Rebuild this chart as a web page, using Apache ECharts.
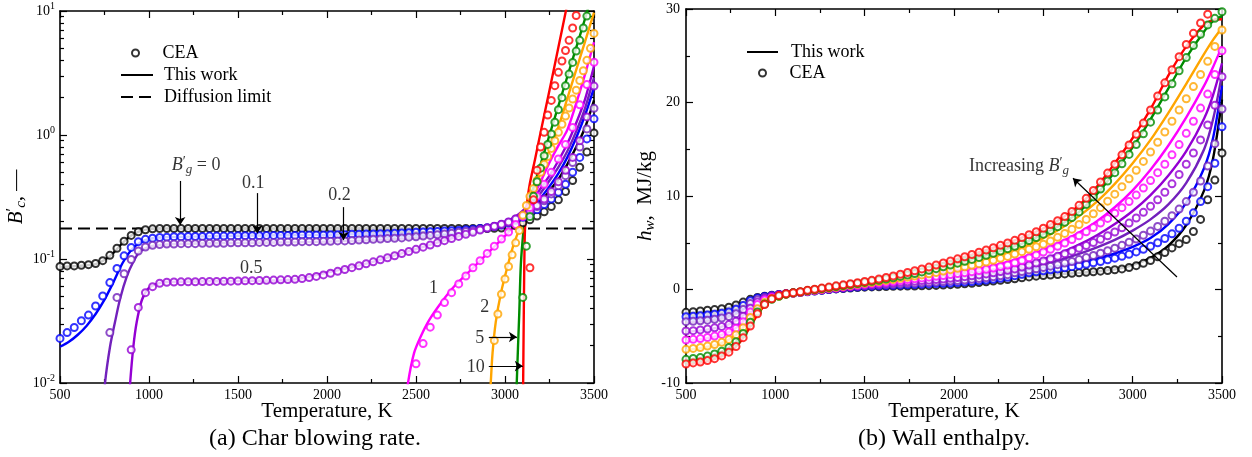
<!DOCTYPE html>
<html><head><meta charset="utf-8">
<script src="https://cdn.jsdelivr.net/npm/echarts@6/dist/echarts.min.js"></script>
<style>html,body{margin:0;padding:0;background:#fff}#c{width:1252px;height:457px}</style>
</head><body><div id="c"></div><script>
// ---------- shared sampling grid of the CEA points (K) ----------
const TEMPS = [500,540,580,620,660,700,740,780,820,860,900,940,980,1020,1060,1100,1140,1180,1220,1260,
1300,1340,1380,1420,1460,1500,1540,1580,1620,1660,1700,1740,1780,1820,1860,1900,1940,1980,2020,2060,
2100,2140,2180,2220,2260,2300,2340,2380,2420,2460,2500,2540,2580,2620,2660,2700,2740,2780,2820,2860,
2900,2940,2980,3020,3060,3100,3140,3180,3220,3260,3300,3340,3380,3420,3460,3500];
const B_G = ['0','0.1','0.2','0.5','1','2','5','10'];
const COLORS = ['#000000','#0000ff','#7221bc','#9400d3','#ff00ff','#ffa500','#008b00','#ff0000'];

// ---------- (a) char blowing rate B'c ----------
const DIFF_LIMIT = 0.176;
const B_CEA_START = [500,500,780,900,2500];
const B_CEA_0 = [0.087,0.088,0.088,0.089,0.09,0.092,0.097,0.107,0.122,0.139,0.155,0.166,0.172,0.175,
0.176,0.176,0.176,0.176,0.176,0.176,0.176,0.176,0.176,0.176,
0.176,0.176,0.176,0.176,0.176,0.176,0.176,0.176,0.176,0.176,
0.176,0.176,0.176,0.176,0.176,0.176,0.176,0.176,0.176,0.176,
0.176,0.176,0.176,0.176,0.176,0.176,0.176,0.176,0.176,0.176,
0.176,0.176,0.176,0.176,0.176,0.176,0.176,
0.177,0.178,0.181,0.187,0.196,0.207,0.222,0.24,0.265,0.3,0.35,0.43,0.55,0.73,1.04];
const B_CEA_1 = [0.0229,0.0255,0.028,0.0318,0.0353,0.0418,0.0503,0.0645,0.084,0.106,0.124,0.138,0.144,0.147,
0.149,0.15,0.151,0.151,0.152,0.152,0.152,0.153,0.153,0.153,
0.153,0.154,0.154,0.154,0.154,0.155,0.155,0.155,0.155,0.155,
0.156,0.156,0.156,0.156,0.157,0.157,0.157,0.158,0.158,0.159,
0.159,0.16,0.16,0.161,0.162,0.163,0.164,0.165,0.166,0.167,
0.168,0.169,0.17,0.172,0.174,0.176,0.179,
0.183,0.188,0.195,0.205,0.217,0.232,0.25,0.275,0.305,0.345,0.4,0.5,0.66,0.93,1.35];
const B_CEA_2 = [0.0255,0.049,0.076,0.099,0.116,0.125,0.129,
0.131,0.132,0.132,0.133,0.133,0.133,0.134,0.134,0.134,0.134,
0.135,0.135,0.135,0.135,0.136,0.136,0.136,0.137,0.137,0.137,
0.138,0.138,0.138,0.139,0.139,0.14,0.14,0.141,0.142,0.143,
0.144,0.145,0.146,0.147,0.148,0.15,0.151,0.153,0.155,0.157,
0.159,0.161,0.164,0.167,0.17,0.174,0.178,
0.183,0.19,0.198,0.21,0.225,0.243,0.265,0.295,0.335,0.39,0.47,0.6,0.8,1.12,1.64];
const B_CEA_3 = [0.0185,0.0407,0.0535,0.0598,
0.0637,0.065,0.0652,0.0654,0.0655,0.0656,0.0657,0.0658,0.066,0.0661,
0.0663,0.0665,0.0667,0.0669,0.0671,0.0673,0.0676,0.0679,0.0682,
0.0685,0.0695,0.0708,0.0724,0.0744,0.0768,0.0795,0.0823,0.0852,0.0883,
0.0915,0.0949,0.0985,0.1023,0.1063,0.1105,0.115,0.1197,0.1246,0.1297,
0.135,0.1405,0.1462,0.1521,0.1582,0.1645,0.171,0.1777,
0.184,0.191,0.199,0.21,0.225,0.245,0.27,0.305,0.35,0.42,0.52,0.66,0.9,1.4,2.48];
const B_CEA_4 = [0.0143,0.0208,0.0282,0.0353,0.0445,0.0535,0.063,0.073,0.085,0.097,0.111,
0.127,0.145,0.165,0.19,0.22,0.26,0.32,0.4,0.5,0.64,0.84,1.15,1.75,2.55,3.86];
const B_CEA_5 = [[2940,0.022],[2960,0.036],[2980,0.052],[3000,0.069],[3020,0.087],[3040,0.108],[3060,0.135],
[3080,0.17],[3100,0.225],[3120,0.27],[3140,0.32],[3160,0.37],[3180,0.43],[3200,0.5],[3220,0.58],[3240,0.67],
[3260,0.78],[3280,0.9],[3300,1.05],[3320,1.22],[3340,1.42],[3360,1.65],[3380,1.95],[3400,2.3],[3420,2.75],
[3440,3.3],[3460,4.0],[3480,5.0],[3500,6.6]];
const B_CEA_6 = [[3100,0.049],[3120,0.127],[3140,0.22],[3160,0.32],[3180,0.42],[3200,0.54],[3220,0.68],
[3240,0.84],[3260,1.02],[3280,1.27],[3300,1.6],[3320,2.0],[3340,2.5],[3360,3.1],[3380,3.85],[3400,4.75],
[3420,5.8],[3440,7.3],[3460,9.1]];
const B_CEA_7 = [[3140,0.085],[3160,0.3],[3180,0.52],[3200,0.8],[3220,1.05],[3240,1.45],[3260,1.9],[3280,2.5],
[3300,3.2],[3320,3.95],[3340,4.8],[3360,5.8],[3380,7.3],[3400,9.2]];

const B_LINE_0 = [[500,0.086],[550,0.087],[600,0.088],[650,0.089],[700,0.091],[750,0.098],[800,0.112],[850,0.134],
[900,0.155],[950,0.168],[1000,0.174],[1050,0.176],[1500,0.176],[2000,0.176],[2500,0.176],[3000,0.177],[3050,0.188],
[3100,0.21],[3150,0.245],[3200,0.29],[3250,0.355],[3300,0.44],[3350,0.58],[3400,0.8],[3450,1.15],[3500,1.9]];
const B_LINE_1 = [[500,0.0196],[550,0.0215],[600,0.0245],[650,0.029],[700,0.036],[750,0.047],[800,0.065],[850,0.092],
[900,0.118],[950,0.136],[1000,0.145],[1050,0.149],[1100,0.15],[1500,0.154],[2000,0.157],[2500,0.164],[2800,0.173],
[3000,0.19],[3050,0.2],[3100,0.22],[3150,0.255],[3200,0.31],[3250,0.385],[3300,0.49],[3350,0.66],[3400,0.95],
[3450,1.45],[3500,2.4]];
const B_LINE_2 = [[745,0.006],[753,0.01],[781,0.0196],[809,0.031],[838,0.048],[875,0.072],[912,0.095],[950,0.115],
[1006,0.126],[1100,0.131],[1500,0.135],[2000,0.138],[2500,0.148],[2800,0.165],[2950,0.185],[3000,0.195],[3050,0.21],
[3100,0.235],[3150,0.275],[3200,0.34],[3250,0.43],[3300,0.55],[3350,0.74],[3400,1.07],[3450,1.65],[3500,2.9]];
const B_LINE_3 = [[885,0.006],[894,0.01],[912,0.0196],[931,0.031],[960,0.0467],[997,0.058],[1044,0.063],[1100,0.0652],
[1500,0.0665],[1800,0.068],[2000,0.0777],[2200,0.09],[2400,0.109],[2600,0.133],[2800,0.161],[2950,0.185],[3050,0.215],
[3100,0.245],[3150,0.29],[3200,0.37],[3250,0.47],[3300,0.62],[3350,0.85],[3400,1.25],[3450,1.95],[3500,3.6]];
const B_LINE_4 = [[2445,0.007],[2455,0.01],[2489,0.0174],[2526,0.0236],[2573,0.032],[2639,0.044],[2714,0.06],
[2808,0.0815],[2902,0.111],[2995,0.151],[3051,0.182],[3100,0.225],[3150,0.3],[3200,0.42],[3250,0.6],[3300,0.82],
[3350,1.1],[3400,1.8],[3450,3.1],[3500,5.6]];
const B_LINE_5 = [[2912,0.006],[2920,0.01],[2930,0.0174],[2948,0.031],[2977,0.053],[3014,0.087],[3051,0.134],
[3089,0.188],[3110,0.24],[3150,0.33],[3200,0.5],[3250,0.75],[3300,1.16],[3350,1.97],[3400,3.35],[3450,5.7],[3500,9.7]];
const B_LINE_6 = [[3064,0.006],[3066,0.01],[3080,0.036],[3089,0.09],[3104,0.17],[3115,0.22],[3150,0.34],[3200,0.58],
[3250,1.0],[3300,1.72],[3350,2.95],[3400,5.07],[3450,8.7],[3470,11]];
const B_LINE_7 = [[3101,0.006],[3102,0.01],[3105,0.03],[3108,0.08],[3112,0.17],[3120,0.25],[3136,0.38],[3170,0.65],
[3200,1.05],[3250,2.3],[3300,5.1],[3345,10.5]];

// ---------- (b) wall enthalpy h_w (MJ/kg) ----------
const H_CEA_0 = [-2.44,-2.38,-2.3,-2.22,-2.15,-2.05,-1.9,-1.65,-1.35,-1.05,-0.85,-0.72,-0.62,-0.54,-0.46,-0.38,
-0.3,-0.22,-0.14,-0.07,0.0,0.06,0.11,0.16,0.21,0.25,
0.28,0.3,0.32,0.34,0.36,0.37,0.38,0.4,0.41,0.44,
0.48,0.52,0.56,0.61,0.67,0.74,0.82,0.9,0.98,1.06,
1.15,1.25,1.35,1.43,1.49,1.55,1.61,1.67,1.73,1.78,
1.84,1.9,1.96,2.03,2.11,2.2,2.35,2.55,2.8,3.1,
3.5,3.95,4.45,4.9,5.35,6.2,7.5,9.6,11.7,14.6];
const H_CEA_1 = [-2.91,-2.87,-2.8,-2.73,-2.65,-2.55,-2.4,-2.1,-1.7,-1.2,-0.9,-0.75,-0.63,-0.54,-0.46,-0.38,
-0.31,-0.24,-0.16,-0.08,0.0,0.07,0.14,0.21,0.27,0.33,
0.36,0.39,0.42,0.45,0.48,0.51,0.54,0.57,0.6,0.63,
0.66,0.7,0.75,0.8,0.86,0.93,1.01,1.1,1.2,1.31,
1.48,1.63,1.78,1.9,2.0,2.1,2.2,2.32,2.44,2.57,
2.7,2.85,3.0,3.17,3.35,3.55,3.77,4.02,4.3,4.62,
5.0,5.45,5.95,6.55,7.3,8.2,9.4,11.0,13.5,17.4];
const H_CEA_2 = [-3.44,-3.4,-3.35,-3.28,-3.18,-3.05,-2.9,-2.6,-2.15,-1.5,-1.1,-0.85,-0.68,-0.56,-0.47,-0.38,
-0.3,-0.22,-0.14,-0.06,0.03,0.11,0.19,0.26,0.33,0.4,
0.44,0.48,0.52,0.56,0.6,0.64,0.68,0.72,0.76,0.8,
0.85,0.9,0.96,1.02,1.09,1.17,1.26,1.36,1.47,1.59,
1.78,1.93,2.08,2.22,2.36,2.5,2.66,2.83,3.0,3.2,
3.41,3.64,3.88,4.14,4.42,4.72,5.05,5.4,5.8,6.25,
6.75,7.3,7.9,8.6,9.4,10.4,11.6,13.2,15.6,19.3];
const H_CEA_3 = [-4.44,-4.4,-4.32,-4.22,-4.1,-3.95,-3.75,-3.4,-2.85,-2.0,-1.35,-0.98,-0.75,-0.6,-0.49,-0.39,
-0.3,-0.2,-0.12,-0.04,0.06,0.14,0.23,0.31,0.39,0.47,
0.53,0.59,0.65,0.71,0.77,0.83,0.89,0.95,1.0,1.06,
1.12,1.2,1.28,1.37,1.46,1.56,1.67,1.79,1.92,2.06,
2.2,2.4,2.62,2.84,3.06,3.3,3.55,3.82,4.1,4.4,
4.7,5.02,5.37,5.75,6.15,6.6,7.1,7.65,8.25,8.9,
9.6,10.4,11.3,12.3,13.4,14.6,16.0,17.6,19.7,22.76];
const H_CEA_4 = [-5.4,-5.33,-5.25,-5.13,-4.98,-4.8,-4.55,-4.15,-3.45,-2.4,-1.6,-1.12,-0.85,-0.65,-0.5,-0.39,
-0.29,-0.18,-0.09,0.0,0.1,0.19,0.28,0.37,0.46,0.56,
0.64,0.72,0.8,0.88,0.97,1.06,1.15,1.24,1.32,1.41,
1.5,1.6,1.7,1.8,1.91,2.03,2.16,2.3,2.45,2.61,
2.85,3.1,3.4,3.7,4.0,4.3,4.62,4.97,5.35,5.75,
6.18,6.62,7.1,7.6,8.15,8.75,9.4,10.1,10.85,11.65,
12.5,13.4,14.4,15.5,16.7,18.0,19.4,20.9,23.0,25.54];
const H_CEA_5 = [-6.4,-6.3,-6.2,-6.05,-5.88,-5.65,-5.35,-4.85,-4.1,-3.0,-2.05,-1.4,-0.98,-0.72,-0.52,-0.38,
-0.28,-0.16,-0.06,0.04,0.14,0.24,0.35,0.45,0.55,0.66,
0.76,0.86,0.97,1.08,1.2,1.32,1.44,1.56,1.69,1.83,
1.97,2.12,2.27,2.43,2.59,2.76,2.94,3.13,3.33,3.54,
3.8,4.05,4.3,4.57,4.85,5.2,5.58,6.0,6.45,6.95,
7.5,8.1,8.75,9.45,10.2,11.0,11.85,12.75,13.7,14.7,
15.75,16.85,18.0,19.2,20.4,21.7,23.0,24.4,26.0,27.75];
const H_CEA_6 = [-7.47,-7.38,-7.28,-7.12,-6.9,-6.6,-6.2,-5.6,-4.7,-3.5,-2.4,-1.55,-1.05,-0.72,-0.5,-0.36,
-0.26,-0.12,-0.02,0.1,0.2,0.31,0.42,0.53,0.64,0.76,
0.87,0.99,1.12,1.26,1.4,1.55,1.71,1.88,2.05,2.23,
2.42,2.62,2.82,3.02,3.22,3.43,3.65,3.88,4.12,4.37,
4.63,4.92,5.23,5.56,5.92,6.3,6.72,7.18,7.7,8.3,
9.1,9.9,10.75,11.6,12.5,13.45,14.45,15.5,16.65,17.9,
19.2,20.6,22.0,23.4,24.8,26.1,27.3,28.3,29.0,29.7];
const H_CEA_7 = [-7.97,-7.85,-7.75,-7.6,-7.4,-7.1,-6.7,-6.1,-5.15,-3.9,-2.6,-1.6,-1.0,-0.65,-0.45,-0.34,
-0.24,-0.08,0.03,0.15,0.26,0.39,0.5,0.61,0.73,0.86,
0.98,1.12,1.28,1.45,1.63,1.82,2.01,2.2,2.4,2.62,
2.84,3.06,3.28,3.5,3.74,3.98,4.22,4.47,4.72,4.98,
5.26,5.55,5.85,6.18,6.55,6.95,7.35,7.8,8.35,9.0,
9.75,10.6,11.5,12.45,13.4,14.4,15.45,16.6,17.8,19.2,
20.7,22.1,23.5,24.9,26.2,27.4,28.5,29.45,null,null];

const LINE_T = [500,550,600,650,700,750,800,850,900,950,1000,1050,1100,1200,1300,1400,1500,1600,1700,1800,
1900,2000,2100,2200,2300,2400,2500,2600,2700,2800,2900,3000,3100,3200,3300,3400,3450,3500];
const H_LINE_0 = [-2.5,-2.45,-2.38,-2.28,-2.12,-1.88,-1.5,-1.1,-0.86,-0.7,-0.58,-0.47,-0.38,
-0.18,0.0,0.14,0.25,0.31,0.36,0.39,0.44,0.54,0.68,0.86,1.06,1.3,1.49,1.64,1.78,1.93,2.15,2.6,3.4,4.7,6.9,10.6,14.0,20.3];
const H_LINE_1 = [-3.0,-2.93,-2.85,-2.75,-2.6,-2.38,-1.95,-1.35,-0.95,-0.74,-0.6,-0.48,-0.38,
-0.2,0.0,0.17,0.33,0.4,0.47,0.55,0.64,0.76,0.93,1.16,1.45,1.78,2.1,2.45,2.85,3.3,3.85,4.55,5.5,7.0,9.3,13.0,16.2,21.8];
const H_LINE_2 = [-3.55,-3.48,-3.4,-3.28,-3.12,-2.85,-2.4,-1.7,-1.1,-0.8,-0.62,-0.48,-0.39,
-0.19,0.03,0.22,0.4,0.5,0.6,0.7,0.82,0.99,1.2,1.48,1.82,2.22,2.68,3.2,3.8,4.5,5.3,6.3,7.5,9.1,11.4,15.0,18.2,23.0];
const H_LINE_3 = [-4.55,-4.45,-4.35,-4.18,-3.98,-3.65,-3.1,-2.2,-1.4,-0.92,-0.66,-0.5,-0.39,
-0.17,0.06,0.27,0.47,0.62,0.77,0.92,1.08,1.28,1.52,1.82,2.2,2.68,3.25,3.95,4.8,5.8,7.0,8.4,10.1,12.2,14.8,18.3,20.8,24.2];
const H_LINE_4 = [-5.5,-5.38,-5.25,-5.08,-4.85,-4.45,-3.8,-2.7,-1.65,-1.0,-0.7,-0.5,-0.39,
-0.14,0.1,0.33,0.56,0.78,1.0,1.22,1.45,1.72,2.05,2.45,2.95,3.55,4.25,5.1,6.1,7.3,8.8,10.6,12.8,15.4,18.4,21.8,23.8,26.0];
const H_LINE_5 = [-6.5,-6.35,-6.2,-6.0,-5.7,-5.25,-4.5,-3.3,-2.1,-1.25,-0.78,-0.52,-0.38,
-0.11,0.14,0.4,0.66,0.92,1.22,1.55,1.92,2.35,2.82,3.35,3.95,4.65,5.5,6.55,7.85,9.4,11.3,13.5,16.0,18.9,22.0,25.2,26.7,28.0];
const H_LINE_6 = [-7.55,-7.4,-7.25,-7.0,-6.65,-6.1,-5.2,-3.9,-2.45,-1.35,-0.8,-0.52,-0.37,
-0.08,0.2,0.48,0.76,1.06,1.4,1.8,2.23,2.72,3.22,3.76,4.37,5.05,5.92,6.95,8.3,10.2,12.6,15.2,18.2,21.5,24.8,27.6,28.7,29.2];
const H_LINE_7 = [-8.05,-7.9,-7.75,-7.5,-7.15,-6.6,-5.7,-4.3,-2.7,-1.5,-0.85,-0.52,-0.36,
-0.05,0.26,0.56,0.86,1.2,1.63,2.1,2.62,3.17,3.74,4.35,4.98,5.7,6.55,7.6,9.0,11.0,13.5,16.2,19.3,22.9,26.0,28.3,28.8,28.9];

// ---------- build ----------
const SERIF = '"Liberation Serif","DejaVu Serif",serif';
function onGrid(start, vals){ const i0 = TEMPS.indexOf(start); return vals.map((v,i)=>[TEMPS[i0+i], v]); }
function zipT(ts, vals){ return vals.map((v,i)=>[ts[i], v]); }
function richSet(base){ return {
  n:{fontFamily:SERIF,fontSize:base,color:'#000',verticalAlign:'middle'},
  i:{fontFamily:SERIF,fontSize:base,fontStyle:'italic',color:'#000',verticalAlign:'middle'},
  p:{fontFamily:SERIF,fontSize:Math.round(base*0.8),color:'#000',padding:[0,0,Math.round(base*0.35),0],verticalAlign:'middle'},
  s:{fontFamily:SERIF,fontSize:Math.round(base*0.7),fontStyle:'italic',color:'#000',padding:[Math.round(base*0.5),0,0,0],verticalAlign:'middle'}
};}
const LOG_MINOR = [];
for (let d=-2; d<1; d++) for (let k=2; k<=9; k++) LOG_MINOR.push(d+Math.log10(k));

const AX_LINE = {show:true,onZero:false,lineStyle:{color:'#000',width:1.6}};
const TICK = {show:true,inside:true,length:7,lineStyle:{color:'#000',width:1.2}};
const MINOR = {show:true,splitNumber:2,length:4,lineStyle:{color:'#000',width:1.2}};

function xA(gi,pos,lab){ return {type:'value',gridIndex:gi,position:pos,min:500,max:3500,interval:500,
  axisLine:AX_LINE,axisTick:TICK,minorTick:MINOR,splitLine:{show:false},minorSplitLine:{show:false},
  axisLabel:{show:lab,color:'#000',fontFamily:SERIF,fontSize:14,margin:5,formatter:function(v){return String(v);}},
  name:lab?'Temperature, K':'',nameLocation:'middle',nameGap:18,nameMoveOverlap:false,
  nameTextStyle:{color:'#000',fontFamily:SERIF,fontSize:21}}; }
function logA(pos,lab){ return {type:'log',logBase:10,gridIndex:0,position:pos,min:0.01,max:10,
  axisLine:AX_LINE,axisTick:TICK,minorTick:{show:false},splitLine:{show:false},
  axisLabel:{show:lab,margin:5,formatter:function(v){const e=Math.round(Math.log10(v));return '{b|10}{e|'+e+'}';},
    rich:{b:{fontFamily:SERIF,fontSize:14,color:'#000',verticalAlign:'middle'},
          e:{fontFamily:SERIF,fontSize:10,color:'#000',padding:[0,0,9,0],verticalAlign:'middle'}}},
  name:lab?'{i|B}{p|′}{s|c}{n|, —}':'',nameLocation:'middle',nameRotate:90,nameGap:31,nameMoveOverlap:false,
  nameTextStyle:{rich:richSet(21)}}; }
function minorA(pos){ return {type:'value',gridIndex:0,position:pos,min:-2,max:1,
  axisLine:{show:false},axisLabel:{show:false},splitLine:{show:false},
  axisTick:{show:true,inside:true,length:4,customValues:LOG_MINOR,lineStyle:{color:'#000',width:1.2}}}; }
function hA(pos,lab){ return {type:'value',gridIndex:1,position:pos,min:-10,max:30,interval:10,
  axisLine:AX_LINE,axisTick:TICK,minorTick:MINOR,splitLine:{show:false},minorSplitLine:{show:false},
  axisLabel:{show:lab,color:'#000',fontFamily:SERIF,fontSize:14,margin:6},
  name:lab?'{i|h}{s|w}{n|,  MJ/kg}':'',nameLocation:'middle',nameRotate:90,nameGap:28,nameMoveOverlap:false,
  nameTextStyle:{rich:richSet(21)}}; }

const B_LINES = [B_LINE_0,B_LINE_1,B_LINE_2,B_LINE_3,B_LINE_4,B_LINE_5,B_LINE_6,B_LINE_7];
const B_CEAS = [onGrid(B_CEA_START[0],B_CEA_0),onGrid(B_CEA_START[1],B_CEA_1),onGrid(B_CEA_START[2],B_CEA_2),
  onGrid(B_CEA_START[3],B_CEA_3),onGrid(B_CEA_START[4],B_CEA_4),B_CEA_5,B_CEA_6,B_CEA_7];
const H_CEAS = [H_CEA_0,H_CEA_1,H_CEA_2,H_CEA_3,H_CEA_4,H_CEA_5,H_CEA_6,H_CEA_7];
const H_LINES = [H_LINE_0,H_LINE_1,H_LINE_2,H_LINE_3,H_LINE_4,H_LINE_5,H_LINE_6,H_LINE_7];

function lineS(xi,yi,data,color){ return {type:'line',name:'This work',xAxisIndex:xi,yAxisIndex:yi,data:data,
  symbol:'none',showSymbol:false,smooth:0.3,clip:true,silent:true,z:2,
  lineStyle:{color:color,width:2.4},itemStyle:{color:color}}; }
function ceaS(xi,yi,data,color){ return {type:'scatter',name:'CEA',xAxisIndex:xi,yAxisIndex:yi,data:data,
  symbol:'emptyCircle',symbolSize:7,clip:true,silent:true,z:3,
  itemStyle:{color:color,borderColor:color,borderWidth:1.4}}; }

const series = [];
series.push({type:'line',name:'Diffusion limit',xAxisIndex:0,yAxisIndex:0,data:[[500,DIFF_LIMIT],[3500,DIFF_LIMIT]],
  symbol:'none',silent:true,z:2,lineStyle:{color:'#000',width:2,type:[12,6]},itemStyle:{color:'#000'}});
for (let k=0;k<8;k++) series.push(lineS(0,0,B_LINES[k],COLORS[k]));
for (let k=0;k<8;k++) series.push(lineS(2,4,zipT(LINE_T,H_LINES[k]),COLORS[k]));
for (let k=0;k<8;k++) series.push(ceaS(0,0,B_CEAS[k],COLORS[k]));
for (let k=0;k<8;k++) series.push(ceaS(2,4,zipT(TEMPS,H_CEAS[k]),COLORS[k]));

const ARROW = {symbol:['none','arrow'],symbolSize:8,silent:true,label:{show:false},
  lineStyle:{color:'#000',width:1.2,type:'solid'}};
series.push({type:'scatter',name:'ann-a',xAxisIndex:0,yAxisIndex:0,symbolSize:1,silent:true,z:5,
  itemStyle:{color:'rgba(0,0,0,0)'},
  label:{show:true,position:'inside',color:'#000',fontFamily:SERIF,fontSize:18,rich:richSet(18)},
  data:[
    {value:[1265,0.573],label:{formatter:'{i|B}{p|′}{s|g}{n| = 0}'}},
    {value:[1586,0.41],label:{formatter:'0.1'}},
    {value:[2070,0.328],label:{formatter:'0.2'}},
    {value:[1575,0.0845],label:{formatter:'0.5'}},
    {value:[2599,0.0583],label:{formatter:'1'}},
    {value:[2886,0.041],label:{formatter:'2'}},
    {value:[2858,0.0231],label:{formatter:'5'}},
    {value:[2836,0.01346],label:{formatter:'10'}}
  ],
  markLine:Object.assign({},ARROW,{data:[
    [{coord:[1175,0.426]},{coord:[1175,0.188]}],
    [{coord:[1609,0.34]},{coord:[1609,0.161]}],
    [{coord:[2093,0.262]},{coord:[2093,0.142]}],
    [{coord:[2909,0.0235]},{coord:[3067,0.0235]}],
    [{coord:[2909,0.0137]},{coord:[3100,0.0137]}]
  ]})});
series.push({type:'scatter',name:'ann-b',xAxisIndex:2,yAxisIndex:4,symbolSize:1,silent:true,z:5,
  itemStyle:{color:'rgba(0,0,0,0)'},
  label:{show:true,position:'inside',color:'#000',fontFamily:SERIF,fontSize:18,rich:richSet(18)},
  data:[{value:[2364,13.2],label:{formatter:'{n|Increasing }{i|B}{p|′}{s|g}'}}],
  markLine:Object.assign({},ARROW,{data:[[{coord:[3248,1.34]},{coord:[2666,11.9]}]]})});

const LEG_TXT = {fontFamily:SERIF,fontSize:18,color:'#000',lineHeight:18};
const HIDE_SYM = {opacity:0};
const option = {
  animation:false, backgroundColor:'#fff',
  title:[
    {text:'(a) Char blowing rate.',left:310,top:422,textAlign:'center',textStyle:{fontFamily:SERIF,fontSize:24,fontWeight:'normal',color:'#000'}},
    {text:'(b) Wall enthalpy.',left:939,top:422,textAlign:'center',textStyle:{fontFamily:SERIF,fontSize:24,fontWeight:'normal',color:'#000'}}
  ],
  legend:[
    {data:['CEA'],left:131,top:44,padding:0,orient:'vertical',itemWidth:32,itemHeight:7,selectedMode:false,textStyle:Object.assign({padding:[0,0,0,6]},LEG_TXT)},
    {data:['This work','Diffusion limit'],left:120,top:66,padding:0,orient:'vertical',itemWidth:32,itemHeight:14,itemGap:4,selectedMode:false,itemStyle:HIDE_SYM,textStyle:Object.assign({padding:[0,0,0,6]},LEG_TXT)},
    {data:['This work'],left:746,top:43,padding:0,orient:'vertical',itemWidth:31,itemHeight:14,selectedMode:false,itemStyle:HIDE_SYM,textStyle:Object.assign({padding:[0,0,0,8]},LEG_TXT)},
    {data:['CEA'],left:758,top:64,padding:0,orient:'vertical',itemWidth:32,itemHeight:7,selectedMode:false,textStyle:Object.assign({padding:[0,0,0,6]},LEG_TXT)}
  ],
  grid:[{left:60,top:11,width:534,height:372},{left:686,top:9,width:536,height:374}],
  xAxis:[xA(0,'bottom',true),xA(0,'top',false),xA(1,'bottom',true),xA(1,'top',false)],
  yAxis:[logA('left',true),logA('right',false),minorA('left'),minorA('right'),hA('left',true),hA('right',false)],
  series:series
};
const chart = echarts.init(document.getElementById('c'),null,{renderer:'canvas'});
chart.setOption(option);
</script></body></html>
